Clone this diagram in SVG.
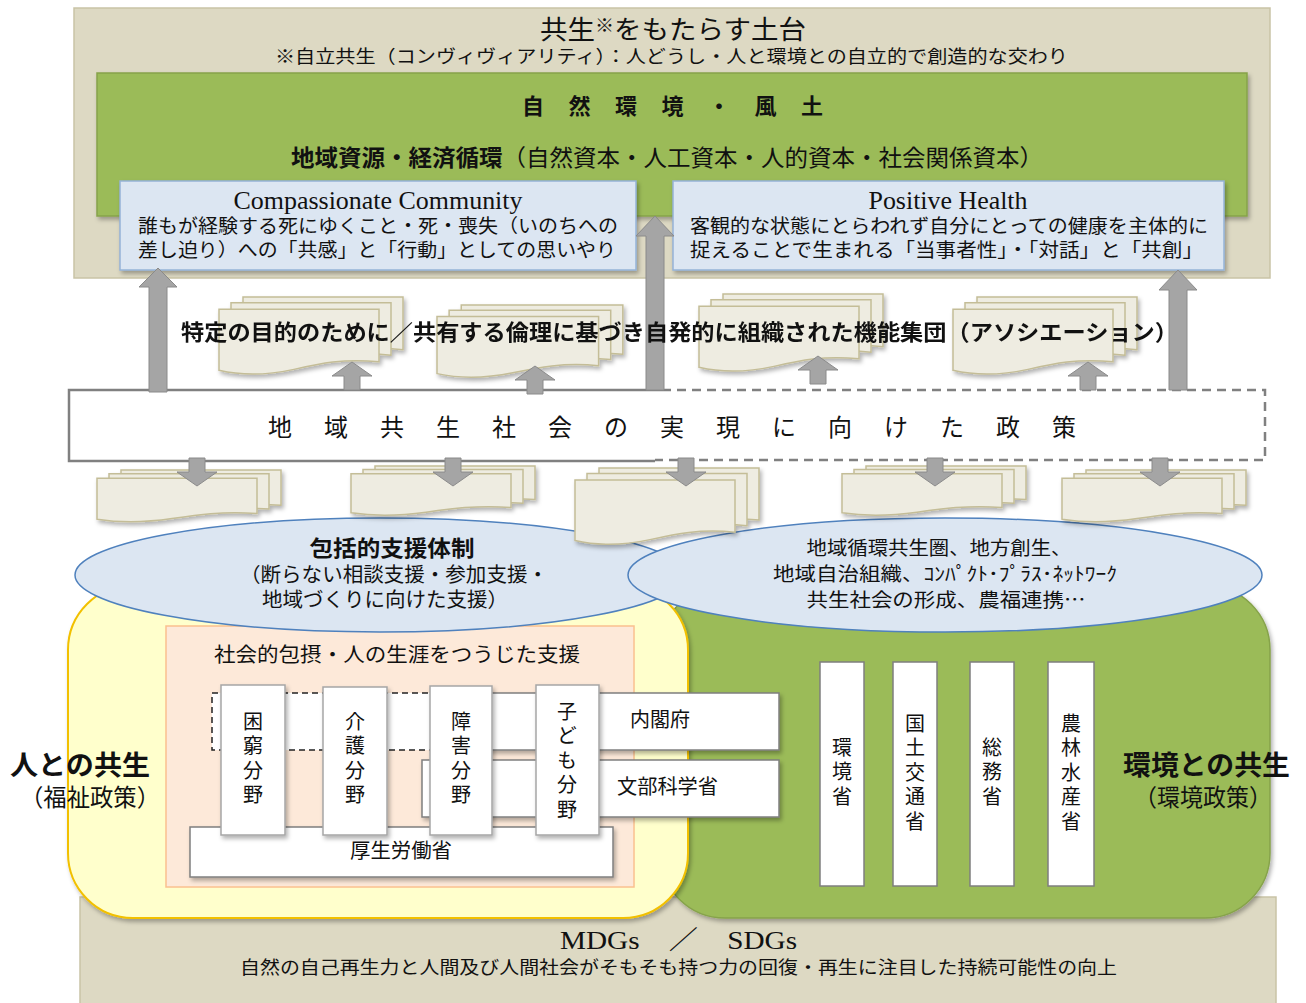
<svg xmlns="http://www.w3.org/2000/svg" xmlns:xlink="http://www.w3.org/1999/xlink" width="1306" height="1003" viewBox="0 0 1306 1003">
<style>
text{font-family:"Noto Sans CJK JP","Noto Sans CJK SC",sans-serif;fill:#111}
.lat{font-family:"Liberation Serif","Noto Sans CJK JP",serif}
.b{font-weight:bold}
.v{writing-mode:vertical-rl;font-size:20px;letter-spacing:4.5px}
.doc{fill:#eeece1;stroke:#c4bd97;stroke-width:1.5;vector-effect:non-scaling-stroke}
.arr{fill:#a5a5a5;stroke:#8a8a8a;stroke-width:1}
.col{fill:#fff;stroke:#a6a6a6;stroke-width:1.5}
.min{fill:#fff;stroke:#7f7f7f;stroke-width:1.5}
.ell{fill:#dce6f2;stroke:#4f81bd;stroke-width:1.5}
.info{fill:#dce6f2;stroke:#95b3d7;stroke-width:1.5}
</style>
<defs>
<filter id="sh" x="-10%" y="-10%" width="125%" height="130%"><feDropShadow dx="2" dy="3" stdDeviation="2" flood-color="#000" flood-opacity="0.3"/></filter>
<path id="doc" class="doc" d="M0,0 H160 V56 C125,52 100,58 75,64 C45,71 20,70 0,65 Z"/>
<g id="stack">
<use href="#doc" x="24" y="0"/>
<use href="#doc" x="12" y="6"/>
<use href="#doc" x="0" y="13"/>
</g>
<path id="upA" class="arr" d="M0,0 L20,14 H8 V28 H-8 V14 H-20 Z"/>
</defs>

<!-- top foundation -->
<g id="foundation">
<rect x="74" y="8" width="1196" height="270" fill="#ddd9c3" stroke="#c9c3a6" stroke-width="1.5"/>
<text x="540" y="39" font-size="26" textLength="266" lengthAdjust="spacingAndGlyphs">共生<tspan font-size="18" dy="-7">※</tspan><tspan dy="7">をもたらす土台</tspan></text>
<text x="275" y="63" font-size="18" textLength="793" lengthAdjust="spacingAndGlyphs">※自立共生（コンヴィヴィアリティ）：人どうし・人と環境との自立的で創造的な交わり</text>
</g>
<g id="nature">
<rect x="97" y="73" width="1150" height="143" fill="#9bbb59" stroke="#86a34a" stroke-width="1.5" filter="url(#sh)"/>
<text x="522" y="114" font-size="22" class="b" letter-spacing="24.5">自然環境・風土</text>
<text x="291" y="166" font-size="23" textLength="752" lengthAdjust="spacingAndGlyphs"><tspan class="b">地域資源・経済循環</tspan>（自然資本・人工資本・人的資本・社会関係資本）</text>
</g>
<g id="compassionate">
<rect x="120" y="181" width="516" height="89" class="info" filter="url(#sh)"/>
<text x="378" y="209" font-size="25" class="lat" text-anchor="middle" textLength="289" lengthAdjust="spacingAndGlyphs">Compassionate Community</text>
<text x="138" y="233" font-size="19" textLength="480" lengthAdjust="spacingAndGlyphs">誰もが経験する死にゆくこと・死・喪失（いのちへの</text>
<text x="138" y="257" font-size="19" textLength="478" lengthAdjust="spacingAndGlyphs">差し迫り）への「共感」と「行動」としての思いやり</text>
</g>
<g id="positive">
<rect x="673" y="181" width="551" height="89" class="info" filter="url(#sh)"/>
<text x="948" y="209" font-size="25" class="lat" text-anchor="middle" textLength="159" lengthAdjust="spacingAndGlyphs">Positive Health</text>
<text x="690" y="233" font-size="19" textLength="518" lengthAdjust="spacingAndGlyphs">客観的な状態にとらわれず自分にとっての健康を主体的に</text>
<text x="690" y="257" font-size="19" textLength="513" lengthAdjust="spacingAndGlyphs">捉えることで生まれる「当事者性」・「対話」と「共創」</text>
</g>

<!-- policy bar -->
<g id="policy">
<rect x="69" y="390" width="1196" height="70" fill="#fff"/>
<path d="M662,390 H69 V461 H655" stroke="#808080" stroke-width="2.5" fill="none"/>
<path d="M662,390 H1265 V460 H655" stroke="#808080" stroke-width="2.5" stroke-dasharray="9,6" fill="none"/>
<text x="268" y="436" font-size="24" letter-spacing="32">地域共生社会の実現に向けた政策</text>
</g>

<!-- association documents -->
<g id="associations" filter="url(#sh)">
<use href="#stack" transform="translate(219,297) scale(1,0.94)"/>
<use href="#stack" transform="translate(437,305) scale(1.01,0.88)"/>
<use href="#stack" transform="translate(699,294) scale(1,0.94)"/>
<use href="#stack" transform="translate(953,297) scale(1,0.94)"/>
</g>

<!-- bottom foundation -->
<g id="sdgs">
<rect x="80" y="897" width="1196" height="110" fill="#ddd9c3" stroke="#c9c3a6" stroke-width="1.5"/>
<text x="560" y="949" font-size="26" class="lat" textLength="237" lengthAdjust="spacingAndGlyphs">MDGs　／　SDGs</text>
<text x="240" y="974" font-size="18" textLength="877" lengthAdjust="spacingAndGlyphs">自然の自己再生力と人間及び人間社会がそもそも持つ力の回復・再生に注目した持続可能性の向上</text>
</g>

<!-- environment side -->
<g id="environment">
<rect x="660" y="585" width="610" height="333" rx="65" ry="65" fill="#9bbb59" stroke="#86a34a" stroke-width="1.5" filter="url(#sh)"/>
</g>
<!-- people side -->
<g id="people">
<rect x="68" y="585" width="620" height="333" rx="65" ry="65" fill="#ffffcc" stroke="#f2c000" stroke-width="2" filter="url(#sh)"/>
</g>

<g id="inclusion">
<rect x="166" y="626" width="468" height="261" fill="#fde9d9" stroke="#fac08f" stroke-width="1.5"/>
<text x="214" y="662" font-size="20" textLength="366" lengthAdjust="spacingAndGlyphs">社会的包摂・人の生涯をつうじた支援</text>
</g>
<g id="dashedBox">
<rect x="212" y="693" width="228" height="57" fill="#fff" stroke="#222" stroke-width="1.5" stroke-dasharray="6,4"/>
</g>
<g id="cabinet">
<rect x="470" y="693" width="309" height="57" class="min" filter="url(#sh)"/>
<text x="630" y="727" font-size="20" textLength="60" lengthAdjust="spacingAndGlyphs">内閣府</text>
</g>
<g id="mext">
<rect x="422" y="760" width="357" height="57" class="min" filter="url(#sh)"/>
<text x="617" y="794" font-size="20" textLength="101" lengthAdjust="spacingAndGlyphs">文部科学省</text>
</g>
<g id="mhlw">
<rect x="190" y="827" width="423" height="50" class="min" filter="url(#sh)"/>
<text x="401" y="858" font-size="20" text-anchor="middle" textLength="102" lengthAdjust="spacingAndGlyphs">厚生労働省</text>
</g>
<g id="poverty">
<rect x="221" y="685" width="64" height="150" class="col" filter="url(#sh)"/>
<text class="v" x="253" y="711">困窮分野</text>
</g>
<g id="care">
<rect x="323" y="687" width="64" height="148" class="col" filter="url(#sh)"/>
<text class="v" x="355" y="711">介護分野</text>
</g>
<g id="disability">
<rect x="430" y="686" width="62" height="149" class="col" filter="url(#sh)"/>
<text class="v" x="461" y="711">障害分野</text>
</g>
<g id="children">
<rect x="536" y="685" width="63" height="150" class="col" filter="url(#sh)"/>
<text class="v" x="567" y="701" letter-spacing="3.5">子ども分野</text>
</g>

<g id="moe">
<rect x="820" y="662" width="44" height="224" class="min"/>
<text class="v" x="842" y="737">環境省</text>
</g>
<g id="mlit">
<rect x="893" y="662" width="44" height="224" class="min"/>
<text class="v" x="915" y="713">国土交通省</text>
</g>
<g id="mic">
<rect x="970" y="662" width="44" height="224" class="min"/>
<text class="v" x="992" y="737">総務省</text>
</g>
<g id="maff">
<rect x="1048" y="662" width="46" height="224" class="min"/>
<text class="v" x="1071" y="713">農林水産省</text>
</g>

<g id="labels">
<text x="10" y="775" font-size="27" class="b" textLength="140" lengthAdjust="spacingAndGlyphs">人との共生</text>
<text x="20" y="806" font-size="24" textLength="140" lengthAdjust="spacingAndGlyphs">（福祉政策）</text>
<text x="1123" y="775" font-size="27" class="b" textLength="167" lengthAdjust="spacingAndGlyphs">環境との共生</text>
<text x="1134" y="806" font-size="24" textLength="138" lengthAdjust="spacingAndGlyphs">（環境政策）</text>
</g>

<!-- ellipses -->
<g id="support">
<ellipse cx="380" cy="575" rx="305" ry="57" class="ell"/>
<text x="392" y="556" font-size="22" class="b" text-anchor="middle" textLength="165" lengthAdjust="spacingAndGlyphs">包括的支援体制</text>
<text x="394" y="582" font-size="20" text-anchor="middle" textLength="308" lengthAdjust="spacingAndGlyphs">（断らない相談支援・参加支援・</text>
<text x="385" y="607" font-size="20" text-anchor="middle" textLength="246" lengthAdjust="spacingAndGlyphs">地域づくりに向けた支援）</text>
</g>
<g id="region">
<ellipse cx="945" cy="575" rx="317" ry="57" class="ell"/>
<text x="939" y="555" font-size="19" text-anchor="middle" textLength="265" lengthAdjust="spacingAndGlyphs">地域循環共生圏、地方創生、</text>
<text x="945" y="581" font-size="19" text-anchor="middle" textLength="344" lengthAdjust="spacingAndGlyphs">地域自治組織、ｺﾝﾊﾟｸﾄ･ﾌﾟﾗｽ･ﾈｯﾄﾜｰｸ</text>
<text x="946" y="607" font-size="19" text-anchor="middle" textLength="279" lengthAdjust="spacingAndGlyphs">共生社会の形成、農福連携…</text>
</g>

<!-- policy documents -->
<g id="policyDocs" filter="url(#sh)">
<use href="#stack" transform="translate(97,470) scale(1,0.63)"/>
<use href="#stack" transform="translate(351,466) scale(1,0.6)"/>
<use href="#stack" transform="translate(575,468) scale(1,0.93)"/>
<use href="#stack" transform="translate(842,466) scale(1,0.6)"/>
<use href="#stack" transform="translate(1062,470) scale(1,0.63)"/>
</g>

<!-- connectors -->
<g id="connectors">
<path class="arr" d="M158,268 L177,287 H167 V392 H149 V287 H139 Z"/>
<path class="arr" d="M655,216 L674,236 H664 V390 H646 V236 H636 Z"/>
<path class="arr" d="M1178,270 L1197,290 H1187 V390 H1169 V290 H1159 Z"/>
<use href="#upA" transform="translate(352,362)"/>
<use href="#upA" transform="translate(535,366)"/>
<use href="#upA" transform="translate(818,356)"/>
<use href="#upA" transform="translate(1088,362)"/>
<use href="#upA" transform="translate(197,486) rotate(180)"/>
<use href="#upA" transform="translate(453,486) rotate(180)"/>
<use href="#upA" transform="translate(686,486) rotate(180)"/>
<use href="#upA" transform="translate(935,486) rotate(180)"/>
<use href="#upA" transform="translate(1160,486) rotate(180)"/>
</g>

<g id="associationLabel">
<text x="181" y="340" font-size="22" class="b" textLength="997" lengthAdjust="spacingAndGlyphs">特定の目的のために／共有する倫理に基づき自発的に組織された機能集団（アソシエーション）</text>
</g>
</svg>
